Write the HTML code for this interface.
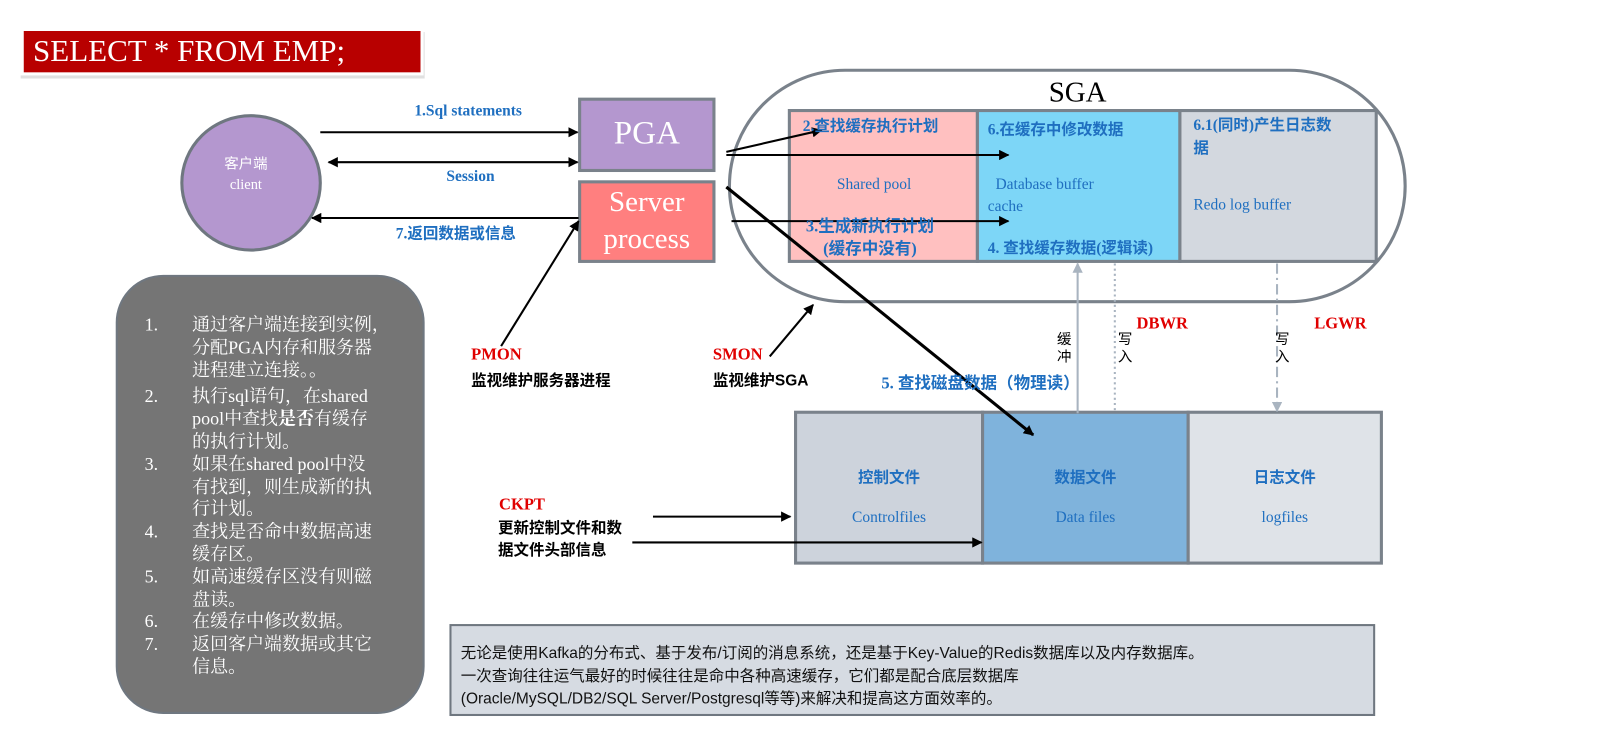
<!DOCTYPE html>
<html><head><meta charset="utf-8"><style>
html,body{margin:0;padding:0}
body{width:1620px;height:744px;background:#fff;position:relative;overflow:hidden;font-family:"Liberation Serif","Noto Serif CJK SC",serif}
#w{position:absolute;left:0;top:0;width:1568px;height:720px;transform:scale(1.0332);transform-origin:0 0}
.a{position:absolute;white-space:nowrap}
.b{color:#1f6fc0;font-weight:bold;font-family:"Liberation Serif","Noto Sans CJK SC",serif}
.bl{color:#1f6fc0}
.r{color:#e00000}
.k{color:#000;font-weight:bold;font-family:"Liberation Sans","Noto Sans CJK SC",sans-serif}
.v{white-space:normal;word-break:break-all}
</style></head><body><div id="w">
<svg class="a" style="left:0;top:0" width="1568" height="720">
<defs><marker id="m" markerWidth="10" markerHeight="10" refX="9" refY="5" orient="auto" markerUnits="userSpaceOnUse"><path d="M0,0 L10,5 L0,10z" fill="#000"/></marker>
<marker id="ms" markerWidth="10" markerHeight="10" refX="1" refY="5" orient="auto" markerUnits="userSpaceOnUse"><path d="M10,0 L0,5 L10,10z" fill="#000"/></marker>
<marker id="g" markerWidth="10" markerHeight="10" refX="9" refY="5" orient="auto" markerUnits="userSpaceOnUse"><path d="M0,0 L10,5 L0,10z" fill="#a9b4c0"/></marker></defs>
<rect x="20" y="31" width="391" height="45" fill="#ccc" opacity=".6"/>
<rect x="18" y="28" width="392" height="45" fill="#fff"/>
<rect x="23" y="30" width="384" height="40" fill="#b80000"/>
<ellipse cx="243" cy="177" rx="67" ry="65" fill="#b497cf" stroke="#6f7780" stroke-width="3"/>
<rect x="561" y="96" width="130" height="69" fill="#b497cf" stroke="#7a828b" stroke-width="3"/>
<rect x="561" y="176" width="130" height="77" fill="#ff7f7f" stroke="#7a828b" stroke-width="3"/>
<rect x="113" y="267" width="297" height="423" rx="45" fill="#757575" stroke="#6f7780" stroke-width="2"/>
<rect x="706" y="68" width="654" height="224" rx="112" fill="#fff" stroke="#7a828b" stroke-width="3"/>
<rect x="764" y="107" width="182" height="146" fill="#ffc0c0" stroke="#7a828b" stroke-width="3"/>
<rect x="946" y="107" width="196" height="146" fill="#7dd6f7" stroke="#7a828b" stroke-width="3"/>
<rect x="1142" y="107" width="190" height="146" fill="#d3d8df" stroke="#7a828b" stroke-width="3"/>
<rect x="770" y="399" width="181" height="146" fill="#cdd3dc" stroke="#7a828b" stroke-width="3"/>
<rect x="951" y="399" width="199" height="146" fill="#7fb3dc" stroke="#7a828b" stroke-width="3"/>
<rect x="1150" y="399" width="187" height="146" fill="#dfe3e8" stroke="#7a828b" stroke-width="3"/>
<rect x="436" y="605" width="894" height="87" fill="#d6dbe2" stroke="#6f7780" stroke-width="2"/>
<g stroke="#000" stroke-width="2" fill="none">
<line x1="310" y1="128" x2="559" y2="128" marker-end="url(#m)"/>
<line x1="318" y1="157" x2="559" y2="157" marker-end="url(#m)" marker-start="url(#ms)"/>
<line x1="560" y1="211" x2="302" y2="211" marker-end="url(#m)"/>
<line x1="485" y1="335" x2="560" y2="214" marker-end="url(#m)"/>
<line x1="703" y1="147" x2="795" y2="126" marker-end="url(#m)"/>
<line x1="703" y1="150" x2="976" y2="150" marker-end="url(#m)"/>
<line x1="708" y1="214" x2="976" y2="214" marker-end="url(#m)"/>
<line x1="745" y1="345" x2="787" y2="295" marker-end="url(#m)"/>
<line x1="632" y1="500" x2="765" y2="500" marker-end="url(#m)"/>
<line x1="612" y1="525" x2="950" y2="525" marker-end="url(#m)"/>
</g>
<line x1="703" y1="181" x2="1000" y2="421" stroke="#000" stroke-width="3" marker-end="url(#m)"/>
<line x1="1043" y1="400" x2="1043" y2="255" stroke="#a9b4c0" stroke-width="2" marker-end="url(#g)"/>
<line x1="1079" y1="255" x2="1079" y2="398" stroke="#a9b4c0" stroke-width="2" stroke-dasharray="2,3"/>
<line x1="1236" y1="255" x2="1236" y2="398" stroke="#a9b4c0" stroke-width="2" stroke-dasharray="10,4,2,4" marker-end="url(#g)"/>
</svg>
<div class="a" style="left:32px;top:33px;color:#fff;font-size:30px">SELECT * FROM EMP;</div>
<div class="a" style="left:217px;top:150px;color:#fff;font-size:14px;text-align:center;line-height:20px;font-family:'Liberation Serif','Noto Sans CJK SC',serif">客户端<br>client</div>
<div class="a" style="left:561px;top:110px;width:130px;text-align:center;color:#fff;font-size:32px">PGA</div>
<div class="a" style="left:561px;top:178px;width:130px;text-align:center;color:#fff;font-size:28px;line-height:36px">Server<br>process</div>
<div class="a b" style="left:401px;top:100px;font-size:15px">1.Sql statements</div>
<div class="a b" style="left:432px;top:163px;font-size:15px">Session</div>
<div class="a b" style="left:383px;top:215px;font-size:15px">7.返回数据或信息</div>
<div class="a" style="left:1015px;top:74px;font-size:28px">SGA</div>
<div class="a b" style="left:777px;top:111px;font-size:15px">2.查找缓存执行计划</div>
<div class="a bl" style="left:810px;top:171px;font-size:15px">Shared pool</div>
<div class="a b" style="left:780px;top:209px;font-size:16px;text-align:center;line-height:22px">3.生成新执行计划<br>(缓存中没有)</div>
<div class="a b" style="left:956px;top:114px;font-size:15px">6.在缓存中修改数据</div>
<div class="a bl" style="left:956px;top:169px;font-size:15px;line-height:21px">&nbsp;&nbsp;Database buffer<br>cache</div>
<div class="a b" style="left:956px;top:229px;font-size:15px">4. 查找缓存数据(逻辑读)</div>
<div class="a b" style="left:1155px;top:111px;font-size:15px;line-height:22px">6.1(同时)产生日志数<br>据</div>
<div class="a bl" style="left:1155px;top:191px;font-size:15px">Redo log buffer</div>
<div class="a v" style="left:1023px;top:320px;font-size:14px;line-height:17px;width:15px;font-family:'Noto Sans CJK SC',sans-serif">缓冲</div>
<div class="a v" style="left:1082px;top:320px;font-size:14px;line-height:17px;width:15px;font-family:'Noto Sans CJK SC',sans-serif">写入</div>
<div class="a v" style="left:1234px;top:320px;font-size:14px;line-height:17px;width:15px;font-family:'Noto Sans CJK SC',sans-serif">写入</div>
<div class="a r" style="left:1100px;top:305px;font-size:16px;font-weight:bold">DBWR</div>
<div class="a r" style="left:1272px;top:305px;font-size:16px;font-weight:bold">LGWR</div>
<div class="a b" style="left:853px;top:357px;font-size:16px">5. 查找磁盘数据（物理读）</div>
<div class="a r" style="left:456px;top:335px;font-size:16px;font-weight:bold">PMON</div>
<div class="a k" style="left:456px;top:357px;font-size:15px">监视维护服务器进程</div>
<div class="a r" style="left:690px;top:335px;font-size:16px;font-weight:bold">SMON</div>
<div class="a k" style="left:690px;top:357px;font-size:15px">监视维护SGA</div>
<div class="a b" style="left:770px;top:444px;width:181px;text-align:center;font-size:15px;line-height:38px">控制文件<br><span style="font-weight:normal;font-family:'Liberation Serif'">Controlfiles</span></div>
<div class="a b" style="left:951px;top:444px;width:199px;text-align:center;font-size:15px;line-height:38px">数据文件<br><span style="font-weight:normal;font-family:'Liberation Serif'">Data files</span></div>
<div class="a b" style="left:1150px;top:444px;width:187px;text-align:center;font-size:15px;line-height:38px">日志文件<br><span style="font-weight:normal;font-family:'Liberation Serif'">logfiles</span></div>
<div class="a r" style="left:483px;top:480px;font-size:16px;font-weight:bold">CKPT</div>
<div class="a k" style="left:482px;top:501px;font-size:15px;line-height:21px">更新控制文件和数<br>据文件头部信息</div>
<div class="a" style="left:140px;top:304px;color:#fff;font-size:17.4px;line-height:21.8px;font-family:'Liberation Serif','Noto Serif CJK SC',serif">
<div style="position:relative;padding-left:46px">
<div><span style="position:absolute;left:0">1.</span>通过客户端连接到实例，<br>分配PGA内存和服务器<br>进程建立连接。。</div>
<div style="margin-top:4px"><span style="position:absolute;left:0">2.</span>执行sql语句，在shared<br>pool中查找<b>是否</b>有缓存<br>的执行计划。</div>
<div><span style="position:absolute;left:0">3.</span>如果在shared pool中没<br>有找到，则生成新的执<br>行计划。</div>
<div><span style="position:absolute;left:0">4.</span>查找是否命中数据高速<br>缓存区。</div>
<div><span style="position:absolute;left:0">5.</span>如高速缓存区没有则磁<br>盘读。</div>
<div><span style="position:absolute;left:0">6.</span>在缓存中修改数据。</div>
<div><span style="position:absolute;left:0">7.</span>返回客户端数据或其它<br>信息。</div>
</div></div>
<div class="a" style="left:446px;top:622px;font-size:15px;line-height:22px;font-family:'Liberation Sans','Noto Sans CJK SC',sans-serif;color:#111">无论是使用Kafka的分布式、基于发布/订阅的消息系统，还是基于Key-Value的Redis数据库以及内存数据库。<br>一次查询往往运气最好的时候往往是命中各种高速缓存，它们都是配合底层数据库<br>(Oracle/MySQL/DB2/SQL Server/Postgresql等等)来解决和提高这方面效率的。</div>
</div></body></html>
